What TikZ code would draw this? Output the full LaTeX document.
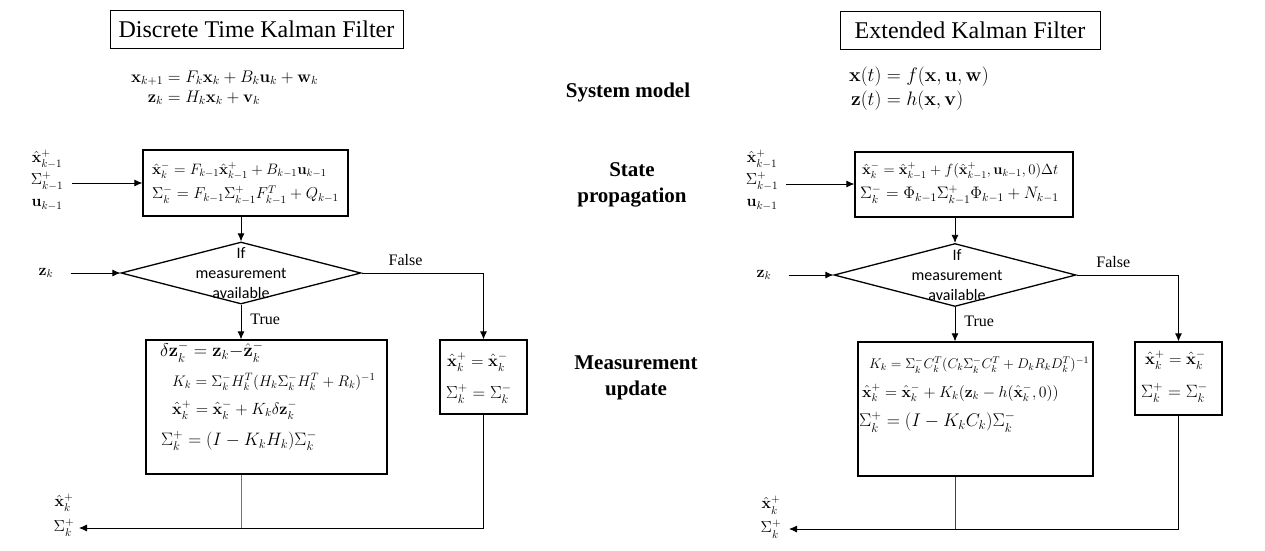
\RequirePackage{fix-cm}
\documentclass[tikz,border=0pt]{standalone}
\usepackage{amsmath}
\usepackage[no-math]{fontspec}
\setmainfont{Liberation Serif}
\newfontfamily\calfont{Carlito}
\usetikzlibrary{shapes.geometric,arrows.meta}
\tikzset{
  titlebox/.style={draw, line width=0.8pt, inner sep=0pt, minimum height=38pt, font=\fontsize{24}{28}\selectfont},
  blk/.style={draw, line width=1.3pt, inner sep=0pt},
  eq/.style={anchor=west, inner sep=0pt, font=\fontsize{#1}{#1}\selectfont},
  eq/.default=16,
  io/.style={align=center, inner sep=0pt, font=\fontsize{16}{22}\selectfont},
  lbl/.style={align=center, inner sep=0pt, font=\fontsize{21}{26}\selectfont\bfseries},
  tf/.style={inner sep=0pt, font=\fontsize{16}{19}\selectfont},
  dia/.style={diamond, draw, line width=1.3pt, inner sep=0pt, minimum width=240pt, minimum height=62pt, aspect=3.8},
  dtext/.style={align=center, inner sep=0pt, font=\calfont\fontsize{16}{20}\selectfont},
  arr/.style={-{Latex[length=8pt,width=7pt]}, line width=0.8pt},
  ln/.style={line width=0.8pt},
}
\begin{document}
\begin{tikzpicture}[x=1pt,y=-1pt]
\useasboundingbox (0,0) rectangle (1265,550);

% ---------------- titles and center labels
\node[titlebox, minimum width=293pt] (tL) at (256.5,29) {Discrete Time Kalman Filter};
\node[titlebox, minimum width=260pt] (tR) at (970,30) {Extended Kalman Filter};

\node[lbl] (sys) at (628,92) {System model};
\node[lbl] (prop) at (632,185) {State\\propagation};
\node[lbl] (meas) at (636,378) {Measurement\\update};

% ---------------- left: system model
\node[eq=16.8] (smL) at (131,89) {$\begin{aligned}\mathbf{x}_{k+1} &= F_k\mathbf{x}_k + B_k\mathbf{u}_k + \mathbf{w}_k\\ \mathbf{z}_k &= H_k\mathbf{x}_k + \mathbf{v}_k\end{aligned}$};

% ---------------- left: propagation
\node[io] (inL) at (47,180) {$\hat{\mathbf{x}}_{k-1}^+$\\$\Sigma_{k-1}^+$\\$\mathbf{u}_{k-1}$};
\node[blk, minimum width=205pt, minimum height=66pt] (b1L) at (245.5,183) {};
\node[eq=15.1] (b1La) at (152,171) {$\hat{\mathbf{x}}_k^- = F_{k-1}\hat{\mathbf{x}}_{k-1}^+ + B_{k-1}\mathbf{u}_{k-1}$};
\node[eq=15.8] (b1Lb) at (152,195) {$\Sigma_k^- = F_{k-1}\Sigma_{k-1}^+F_{k-1}^T + Q_{k-1}$};
\coordinate (aL) at (72,183);
\draw[arr] (aL) -- (aL -| b1L.west);

% ---------------- left: decision
\node[dia] (dL) at (241,273) {};
\node[dtext] (dLt) at (241,273) {If\\measurement\\available};
\node[io] (zL) at (46,273) {$\mathbf{z}_k$};
\draw[arr] (dL.north |- b1L.south) -- (dL.north);
\draw[arr, shorten <=17pt] (zL.east) -- (dL.west);

% ---------------- left: update
\node[blk, minimum width=241pt, minimum height=134pt] (bL) at (266.5,407) {};
\node[eq=18.5] (bLa) at (160,352) {$\delta\mathbf{z}_k^- = \mathbf{z}_k{-}\hat{\mathbf{z}}_k^-$};
\node[eq=15.3] (bLb) at (172,382) {$K_k = \Sigma_k^- H_k^T(H_k\Sigma_k^- H_k^T + R_k)^{-1}$};
\node[eq=16.3] (bLc) at (172,410) {$\hat{\mathbf{x}}_k^+ = \hat{\mathbf{x}}_k^- + K_k\delta\mathbf{z}_k^-$};
\node[eq=18] (bLd) at (161,441) {$\Sigma_k^+ = (I - K_kH_k)\Sigma_k^-$};

\node[blk, minimum width=87pt, minimum height=74pt] (sL) at (483.5,377) {};
\node[eq=16.5] (sLa) at (447,362) {$\hat{\mathbf{x}}_k^+ = \hat{\mathbf{x}}_k^-$};
\node[eq=17.5] (sLb) at (446,394) {$\Sigma_k^+ = \Sigma_k^-$};

\draw[arr] (dL.south) -- (dL.south |- bL.north) node[tf, pos=0.42, right=9pt] (trueL) {True};
\draw[arr] (dL.east) -| (sL.north) node[tf, pos=0.18, above=7pt] (falseL) {False};

% ---------------- left: output
\node[io, font=\fontsize{16}{25}\selectfont] (outL) at (64,515) {$\hat{\mathbf{x}}_k^+$\\$\Sigma_k^+$};
\coordinate (oL) at (79,528);
\draw[arr] (sL.south) |- (oL);
\draw[ln, black!55] (dL.south |- bL.south) -- (dL.south |- oL);

% ---------------- right: system model
\node[eq=19.5] (smR) at (849,89) {$\begin{aligned}\mathbf{x}(t) &= f(\mathbf{x},\mathbf{u},\mathbf{w})\\ \mathbf{z}(t) &= h(\mathbf{x},\mathbf{v})\end{aligned}$};

% ---------------- right: propagation
\node[io] (inR) at (762,180) {$\hat{\mathbf{x}}_{k-1}^+$\\$\Sigma_{k-1}^+$\\$\mathbf{u}_{k-1}$};
\node[blk, minimum width=218pt, minimum height=65pt] (b1R) at (964,184.5) {};
\node[eq=14.7] (b1Ra) at (862,171) {$\hat{\mathbf{x}}_k^- = \hat{\mathbf{x}}_{k-1}^+ + f(\hat{\mathbf{x}}_{k-1}^+,\mathbf{u}_{k-1},0)\Delta t$};
\node[eq=16.6] (b1Rb) at (860,195) {$\Sigma_k^- = \Phi_{k-1}\Sigma_{k-1}^+\Phi_{k-1} + N_{k-1}$};
\coordinate (aR) at (786,184);
\draw[arr] (aR) -- (aR -| b1R.west);

% ---------------- right: decision
\node[dia, minimum width=242pt, minimum height=63pt] (dR) at (955,275) {};
\node[dtext] (dRt) at (957,275) {If\\measurement\\available};
\node[io] (zR) at (764,275) {$\mathbf{z}_k$};
\draw[arr] (dR.north |- b1R.south) -- (dR.north);
\draw[arr, shorten <=17pt] (zR.east) -- (dR.west);

% ---------------- right: update
\node[blk, minimum width=235pt, minimum height=134pt] (bR) at (975.5,409) {};
\node[eq=14] (bRa) at (869,365) {$K_k = \Sigma_k^- C_k^T(C_k\Sigma_k^- C_k^T + D_kR_kD_k^T)^{-1}$};
\node[eq=15.8] (bRb) at (862,393) {$\hat{\mathbf{x}}_k^+ = \hat{\mathbf{x}}_k^- + K_k(\mathbf{z}_k - h(\hat{\mathbf{x}}_k^-,0))$};
\node[eq=18.3] (bRc) at (859,422) {$\Sigma_k^+ = (I - K_kC_k)\Sigma_k^-$};

\node[blk, minimum width=87pt, minimum height=73pt] (sR) at (1178.5,378.5) {};
\node[eq=16.5] (sRa) at (1145,360) {$\hat{\mathbf{x}}_k^+ = \hat{\mathbf{x}}_k^-$};
\node[eq=17.8] (sRb) at (1141,393) {$\Sigma_k^+ = \Sigma_k^-$};

\draw[arr] (dR.south) -- (dR.south |- bR.north) node[tf, pos=0.42, right=9pt] (trueR) {True};
\draw[arr] (dR.east) -| (sR.north) node[tf, pos=0.18, above=7pt] (falseR) {False};

% ---------------- right: output
\node[io, font=\fontsize{16}{24}\selectfont] (outR) at (771,517) {$\hat{\mathbf{x}}_k^+$\\$\Sigma_k^+$};
\coordinate (oR) at (789,529);
\draw[arr] (sR.south) |- (oR);
\draw[ln, black!75] (dR.south |- bR.south) -- (dR.south |- oR);
\end{tikzpicture}
\end{document}
